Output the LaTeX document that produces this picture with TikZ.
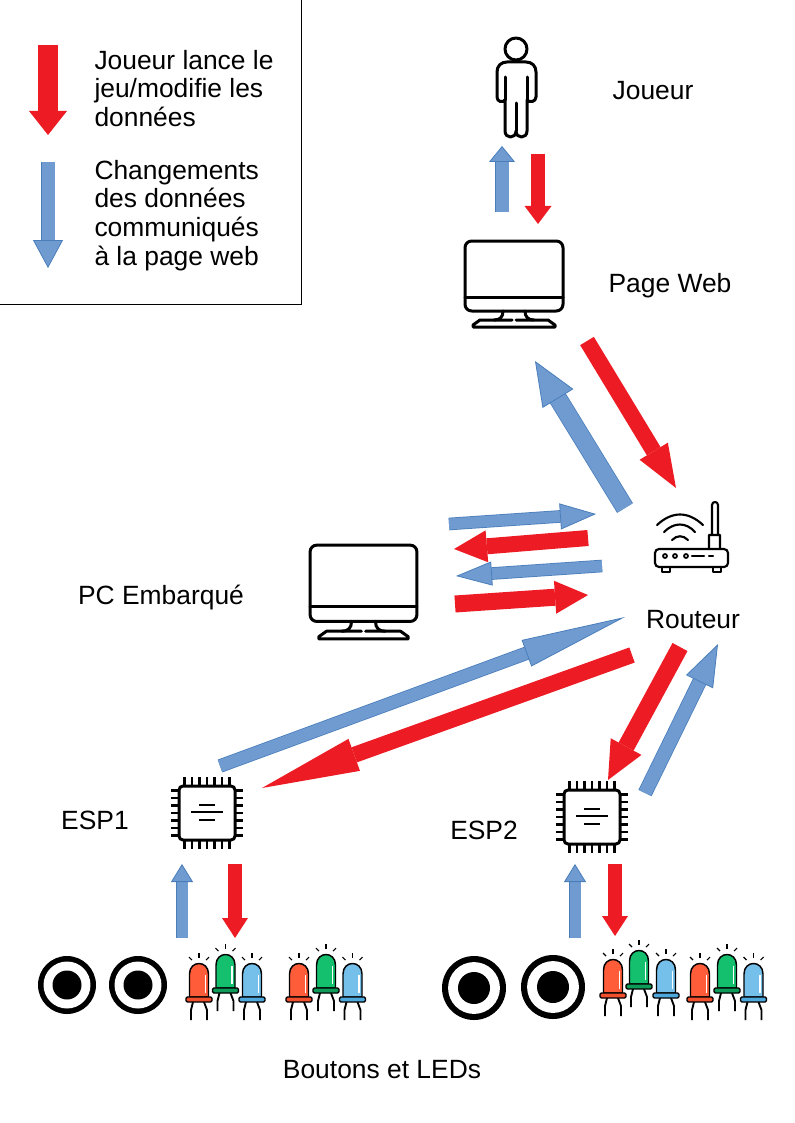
\documentclass[tikz,border=0pt]{standalone}
\usepackage{fontspec}
\setmainfont{Liberation Sans}
\usetikzlibrary{arrows.meta}
\definecolor{redarrow}{HTML}{ED1C24}
\definecolor{bluefill}{HTML}{6F9BD1}
\definecolor{blueedge}{HTML}{4A7EBB}
\definecolor{ledred}{HTML}{FF5C3A}
\definecolor{ledreddark}{HTML}{F0502E}
\definecolor{ledgreen}{HTML}{14C06E}
\definecolor{ledgreendark}{HTML}{0E9A58}
\definecolor{ledblue}{HTML}{74C0EA}
\definecolor{ledbluedark}{HTML}{4FA8DC}

\tikzset{every picture/.style={line width=0.75pt},
	every pic/.style={yscale=-1},
	label/.style={font=\fontsize{19.8pt}{21.6pt}\selectfont,align=left,inner sep=0pt},
	% shaft width, head width, head length
	red arrow/.style n args={3}{draw=redarrow,line width=#1*0.75pt,
		-{Triangle[length=#3*0.75pt,width=#2*0.75pt,fill=redarrow,color=redarrow,line width=0pt]}},
	blue arrow/.style n args={3}{draw=blueedge,line width=0.6pt,double=bluefill,double distance=#1*0.75pt,
		-{Triangle[length=#3*0.75pt,width=#2*0.75pt,fill=bluefill,color=blueedge,line width=0.6pt]}},
	icon/.style={line width=2.25pt,line cap=round,line join=round},
	pics/monitor/.style={code={
		\draw[icon,fill=white] (-49,-43) [rounded corners=5] -- (49,-43) -- (49,27) -- (-49,27) -- cycle;
		\draw[icon] (-49,13) -- (49,13);
		\draw[icon] (-11,27) .. controls (-11,33) and (-14,36) .. (-20,36);
		\draw[icon] (11,27) .. controls (11,33) and (14,36) .. (20,36);
		\draw[icon] (-2,36) -- (-34,36) -- (-41,41) -- (-41,43) -- (41,43) -- (41,41) -- (34,36) -- (2,36);
	}},
	pics/chip/.style={code={
		\foreach \i in {-3,...,3} {
			\draw[line width=1.6pt] (\i*7.5,-36) -- (\i*7.5,-27);
			\draw[line width=1.6pt] (\i*7.5,27) -- (\i*7.5,36);
			\draw[line width=1.6pt] (-36,\i*7.5) -- (-27,\i*7.5);
			\draw[line width=1.6pt] (27,\i*7.5) -- (36,\i*7.5);
		}
		\draw[icon,fill=white,rounded corners=3] (-28,-27) rectangle (28,27);
		\draw[line width=1.5pt] (-16,-1) -- (16,-1);
		\draw[line width=1.5pt] (-8,-8) -- (8,-8);
		\draw[line width=1.5pt] (-8,7) -- (8,7);
	}},
	pics/led/.style n args={2}{code={
		% pattes
		\draw[line width=1.4pt] (-6,5) -- (-8,13) -- (-8,23);
		\draw[line width=1.4pt] (5,5) -- (8,13) -- (8,23);
		% corps
		\draw[line width=1.1pt,fill=#1] (-9.5,0) -- (-9.5,-23) .. controls (-9.5,-37) and (9.5,-37) .. (9.5,-23) -- (9.5,0) -- cycle;
		\draw[white,line width=0.8pt] (6.5,-4) -- (6.5,-22);
		\draw[line width=1.1pt,fill=#2,rounded corners=1] (-13,0) rectangle (13,5);
		% rayons
		\draw[line width=0.8pt] (0,-44) -- (0,-39);
		\draw[line width=0.8pt] (-10,-40) -- (-7,-37);
		\draw[line width=0.8pt] (10,-40) -- (7,-37);
	}},
	pics/bouton/.style={code={
		\fill (0,0) circle (1);
		\fill[white] (0,0) circle (0.81);
		\fill (0,0) circle (0.5);
	}},
}

\begin{document}
\begin{tikzpicture}[x=0.75pt,y=0.75pt,yscale=-1]
	\useasboundingbox (0,0) rectangle (794,1123);

	% legende
	\coordinate (boxtop) at (301,0);
	\coordinate (boxcorner) at (301,304);
	\coordinate (boxleft) at (0,304);
	\draw (boxtop) -- (boxcorner) -- (boxleft);
	\coordinate (legr1) at (48,45);
	\coordinate (legr2) at (48,135);
	\draw[red arrow={20}{38}{24}] (legr1) -- (legr2);
	\coordinate (legb1) at (48,162);
	\coordinate (legb2) at (48,268);
	\draw[blue arrow={13}{30}{28}] (legb1) -- (legb2);
	\node[label,anchor=north west] (legredtxt) at (94,49.5) {Joueur lance le\\jeu/modifie les\\données};
	\node[label,anchor=north west] (legbluetxt) at (94,159.5) {Changements\\des données\\communiqués\\à la page web};

	% icones
	\pic (pageweb) at (514,284) {monitor};
	\pic[scale=1.09] (pc) at (363.5,592) {monitor};
	\pic (esp1) at (207,813) {chip};
	\pic (esp2) at (592,817) {chip};

	% joueur
	\draw[icon,fill=white] (516,49) circle (11);
	\draw[icon] (505,100) -- (505,77) (527,100) -- (527,77) (516,103) -- (516,131);
	\draw[icon] (505,100) .. controls (503,103) and (497,102) .. (497,97) -- (497,72) .. controls (497,66) and (501,62) .. (507,62) -- (526,62) .. controls (532,62) and (536,66) .. (536,72) -- (536,97) .. controls (536,102) and (529,103) .. (527,100) -- (527,131) .. controls (527,139) and (516,139) .. (516,131) .. controls (516,139) and (505,139) .. (505,131) -- cycle;

	% routeur
	\draw[icon,line width=1.6pt,fill=white,rounded corners=3] (655,549) rectangle (728,567);
	\draw[icon,line width=1.6pt] (662,567) -- (662,572) -- (670,572) -- (670,567) (713,567) -- (713,572) -- (721,572) -- (721,567);
	\draw[icon,line width=1.6pt] (709,549) -- (709,535) -- (720,535) -- (720,549) (712,535) -- (712,505) .. controls (712,501) and (718,501) .. (718,505) -- (718,535);
	\draw[line width=1.3pt] (665,556) circle (2) (675,556) circle (2) (686,556) circle (2);
	\draw[icon,line width=1.6pt] (692,556) -- (704,556) (709,556) -- (713,556);
	\draw[icon,line width=1.6pt] (657,525) .. controls (672,511) and (688,511) .. (703,525);
	\draw[icon,line width=1.6pt] (664,532) .. controls (674,522) and (686,522) .. (695,532);
	\draw[icon,line width=1.6pt] (672,540) .. controls (677,535) and (683,535) .. (688,540);

	% boutons et leds
	\pic[scale=29] (b1) at (67,985) {bouton};
	\pic[scale=29] (b2) at (138,985) {bouton};
	\pic[scale=32] (b3) at (474,988) {bouton};
	\pic[scale=32] (b4) at (553,987) {bouton};
	\pic (l1) at (199,997) {led={ledred}{ledreddark}};
	\pic (l2) at (225.5,988) {led={ledgreen}{ledgreendark}};
	\pic (l3) at (252,997) {led={ledblue}{ledbluedark}};
	\pic (l4) at (299,997) {led={ledred}{ledreddark}};
	\pic (l5) at (326,988) {led={ledgreen}{ledgreendark}};
	\pic (l6) at (352.5,997) {led={ledblue}{ledbluedark}};
	\pic (l7) at (613,993) {led={ledred}{ledreddark}};
	\pic (l8) at (639,984) {led={ledgreen}{ledgreendark}};
	\pic (l9) at (666,993) {led={ledblue}{ledbluedark}};
	\pic (l10) at (700,997) {led={ledred}{ledreddark}};
	\pic (l11) at (727,988) {led={ledgreen}{ledgreendark}};
	\pic (l12) at (753.5,997) {led={ledblue}{ledbluedark}};

	% fleches
	\coordinate (jb1) at (502,212);
	\coordinate (jb2) at (502,146);
	\draw[blue arrow={13}{26}{16}] (jb1) -- (jb2);
	\coordinate (jr1) at (538,154);
	\coordinate (jr2) at (538,224);
	\draw[red arrow={14}{27}{18}] (jr1) -- (jr2);
	\coordinate (wr1) at (587,341);
	\coordinate (wr2) at (676,488);
	\draw[red arrow={16}{33}{43}] (wr1) -- (wr2);
	\coordinate (wb1) at (625,508);
	\coordinate (wb2) at (535,361);
	\draw[blue arrow={17}{36}{44}] (wb1) -- (wb2);
	\coordinate (pb1) at (449,524);
	\coordinate (pb2) at (596,514);
	\draw[blue arrow={11}{26}{36}] (pb1) -- (pb2);
	\coordinate (pr1) at (588,538);
	\coordinate (pr2) at (454,549);
	\draw[red arrow={16}{32}{33}] (pr1) -- (pr2);
	\coordinate (pb3) at (602,566);
	\coordinate (pb4) at (456,576);
	\draw[blue arrow={11}{24}{36}] (pb3) -- (pb4);
	\coordinate (pr3) at (455,604);
	\coordinate (pr4) at (588,595);
	\draw[red arrow={17}{33}{33}] (pr3) -- (pr4);
	\coordinate (eb1) at (220,766);
	\coordinate (eb2) at (625,617);
	\draw[blue arrow={12}{28}{105}] (eb1) -- (eb2);
	\coordinate (er1) at (632,655);
	\coordinate (er2) at (262,788);
	\draw[red arrow={16}{34}{98}] (er1) -- (er2);
	\coordinate (fr1) at (680,647);
	\coordinate (fr2) at (608,780);
	\draw[red arrow={17}{35}{38}] (fr1) -- (fr2);
	\coordinate (fb1) at (645,793);
	\coordinate (fb2) at (718,644);
	\draw[blue arrow={13}{30}{42}] (fb1) -- (fb2);
	\coordinate (gb1) at (182,938);
	\coordinate (gb2) at (182,864);
	\draw[blue arrow={11}{22}{18}] (gb1) -- (gb2);
	\coordinate (gr1) at (235,864);
	\coordinate (gr2) at (235,938);
	\draw[red arrow={14}{26}{20}] (gr1) -- (gr2);
	\coordinate (hb1) at (575,938);
	\coordinate (hb2) at (575,864);
	\draw[blue arrow={11}{22}{18}] (hb1) -- (hb2);
	\coordinate (hr1) at (615,864);
	\coordinate (hr2) at (615,936);
	\draw[red arrow={14}{26}{20}] (hr1) -- (hr2);

	% textes
	\node[label] (joueur) at (653,91) {Joueur};
	\node[label] (web) at (670,286) {Page Web};
	\node[label] (routeur) at (693,620) {Routeur};
	\node[label] (embarque) at (161,598) {PC Embarqué};
	\node[label] (espun) at (95,820) {ESP1};
	\node[label] (espdeux) at (484,830) {ESP2};
	\node[label] (leds) at (382,1070) {Boutons et LEDs};
\end{tikzpicture}
\end{document}
